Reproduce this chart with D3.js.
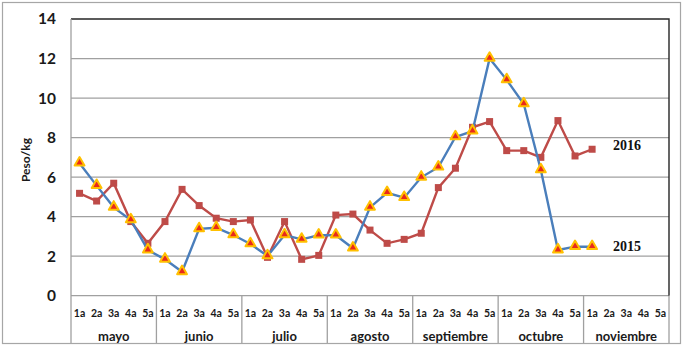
<!DOCTYPE html>
<html>
<head>
<meta charset="utf-8">
<script src="https://cdn.jsdelivr.net/npm/d3@7"></script>
<style>
  body { margin: 0; background: #fff; }
  svg { display: block; }
</style>
</head>
<body>
<svg width="689" height="348"></svg>
<script>
const months = ["mayo", "junio", "julio", "agosto", "septiembre", "octubre", "noviembre"];
const weeks = ["1a", "2a", "3a", "4a", "5a"];
const yTicks = [0, 2, 4, 6, 8, 10, 12, 14];

// peso por semana, mayo 1a .. noviembre 1a
const values2015 = [6.7, 5.57, 4.47, 3.83, 2.31, 1.84, 1.21, 3.38, 3.44, 3.07,
  2.62, 2.01, 3.07, 2.85, 3.06, 3.06, 2.4, 4.47, 5.21, 4.96,
  5.99, 6.5, 8.03, 8.33, 12.0, 10.92, 9.7, 6.36, 2.31, 2.48, 2.48];
const values2016 = [5.18, 4.79, 5.69, 3.75, 2.65, 3.75, 5.38, 4.56, 3.92, 3.75,
  3.83, 1.94, 3.75, 1.84, 2.04, 4.08, 4.13, 3.32, 2.65, 2.85,
  3.16, 5.47, 6.45, 8.52, 8.81, 7.34, 7.34, 7.0, 8.86, 7.07, 7.41];

const svg = d3.select("svg");

const plot = { left: 71, right: 669, top: 19, bottom: 295.7, axisBottom: 343 };

// outer frame
svg.append("rect")
  .attr("x", 2.5).attr("y", 2.5)
  .attr("width", 678).attr("height", 341)
  .attr("fill", "none").attr("stroke", "#a6a6a6").attr("stroke-width", 1.2);

const cats = [];
months.forEach(m => weeks.forEach(w => cats.push(m + "|" + w)));

const x = d3.scaleBand().domain(cats).range([plot.left, plot.right]);
const y = d3.scaleLinear().domain([0, 14]).range([plot.bottom, plot.top]);
const cx = i => x(cats[i]) + x.bandwidth() / 2;

// gridlines
svg.append("g").selectAll("line").data(yTicks.filter(d => d < 14))
  .enter().append("line")
    .attr("x1", plot.left).attr("x2", plot.right)
    .attr("y1", d => y(d)).attr("y2", d => y(d))
    .attr("stroke", "#a0a0a0").attr("stroke-width", 1.3);

// plot frame top + right
svg.append("path")
  .attr("d", `M${plot.left},${y(14)}H${plot.right}V${plot.bottom}`)
  .attr("fill", "none").attr("stroke", "#262626").attr("stroke-width", 1.4);

// left axis line down through the label area
svg.append("line")
  .attr("x1", plot.left).attr("x2", plot.left).attr("y1", plot.top).attr("y2", plot.axisBottom)
  .attr("stroke", "#a0a0a0").attr("stroke-width", 1.3);

// month separators
svg.append("g").selectAll("line").data(d3.range(1, months.length + 1))
  .enter().append("line")
    .attr("x1", i => x(cats[0]) + i * 5 * x.bandwidth())
    .attr("x2", i => x(cats[0]) + i * 5 * x.bandwidth())
    .attr("y1", plot.bottom).attr("y2", plot.axisBottom)
    .attr("stroke", "#a0a0a0").attr("stroke-width", 1.3);

// y tick labels
const yAxis = d3.axisLeft(y).tickValues(yTicks).tickSize(0).tickPadding(0);
const yg = svg.append("g").attr("transform", `translate(56,0)`).call(yAxis);
yg.select(".domain").remove();
yg.selectAll("text")
  .attr("font-family", "Lato, sans-serif").attr("font-weight", "bold")
  .attr("font-size", 15.5).attr("fill", "#1a1a1a");

svg.append("text")
  .attr("transform", "translate(30,160) rotate(-90)")
  .attr("text-anchor", "middle")
  .attr("font-family", "Lato, sans-serif").attr("font-weight", "bold")
  .attr("font-size", 12).attr("fill", "#1a1a1a")
  .text("Peso/kg");

// week labels
svg.append("g").selectAll("text").data(cats)
  .enter().append("text")
    .attr("x", (d, i) => cx(i))
    .attr("y", 317)
    .attr("text-anchor", "middle")
    .attr("font-family", "Lato, sans-serif").attr("font-weight", "bold")
    .attr("font-size", 10.5).attr("fill", "#1a1a1a")
    .text(d => d.split("|")[1]);

// month labels
svg.append("g").selectAll("text").data(months)
  .enter().append("text")
    .attr("x", (d, i) => cx(i * 5 + 2))
    .attr("y", 341)
    .attr("text-anchor", "middle")
    .attr("font-family", "Lato, sans-serif").attr("font-weight", "bold")
    .attr("font-size", 13).attr("fill", "#1a1a1a")
    .text(d => d);

const line = d3.line().x((d, i) => cx(i)).y(d => y(d));

// 2016 series
svg.append("path").datum(values2016)
  .attr("d", line)
  .attr("fill", "none").attr("stroke", "#be4b48").attr("stroke-width", 2.4);
svg.append("g").selectAll("rect").data(values2016)
  .enter().append("rect")
    .attr("x", (d, i) => cx(i) - 3.5).attr("y", d => y(d) - 3.5)
    .attr("width", 7).attr("height", 7)
    .attr("fill", "#be4b48");

// 2015 series
svg.append("path").datum(values2015)
  .attr("d", line)
  .attr("fill", "none").attr("stroke", "#4a7ebb").attr("stroke-width", 2.4);
const tri = d3.symbol().type(d3.symbolTriangle).size(42);
svg.append("g").selectAll("path").data(values2015)
  .enter().append("path")
    .attr("d", tri)
    .attr("transform", (d, i) => `translate(${cx(i)},${y(d) - 0.5})`)
    .attr("fill", "#e8291c").attr("stroke", "#ffc000").attr("stroke-width", 2)
    .attr("stroke-linejoin", "round");

// series labels
svg.append("text")
  .attr("x", 613).attr("y", y(7.6) + 5)
  .attr("font-family", "'Liberation Serif', serif").attr("font-weight", "bold")
  .attr("font-size", 14).attr("fill", "#111")
  .text("2016");
svg.append("text")
  .attr("x", 613).attr("y", y(2.5) + 5)
  .attr("font-family", "'Liberation Serif', serif").attr("font-weight", "bold")
  .attr("font-size", 14).attr("fill", "#111")
  .text("2015");
</script>
</body>
</html>
